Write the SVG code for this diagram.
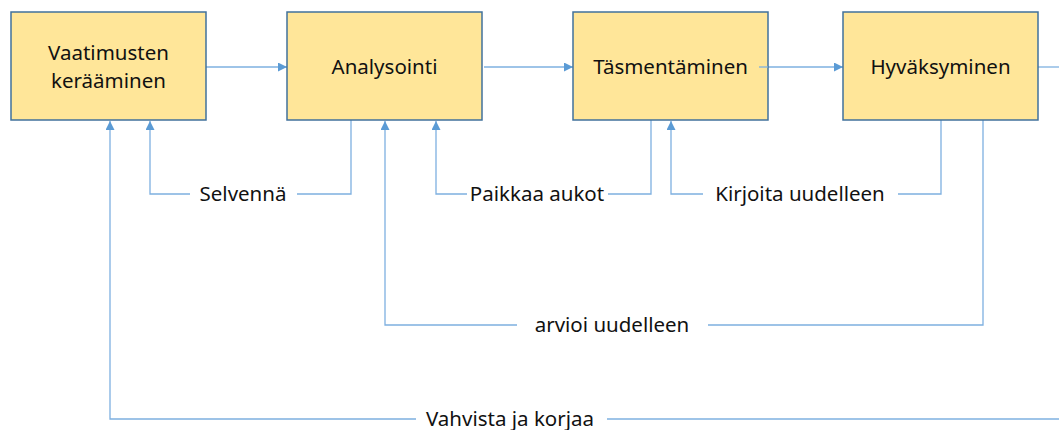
<svg xmlns="http://www.w3.org/2000/svg" width="1059" height="430" viewBox="0 0 1059 430">
  <style>
    .box { fill: #FFE699; stroke: #41719C; stroke-width: 1.5; }
    .lbl { font-family: "Noto Sans", "Open Sans", sans-serif; font-size: 20.5px; fill: #111111; text-anchor: middle; }
    .con { fill: none; stroke: #7EB0E0; stroke-width: 1.3; }
    .arr { fill: none; stroke: #7EB0E0; stroke-width: 1.3; marker-end: url(#head); }
  </style>
  <defs>
    <marker id="head" viewBox="0 0 10 10" refX="10" refY="5" markerUnits="userSpaceOnUse" markerWidth="9" markerHeight="9" orient="auto">
      <path d="M0,0 L10,5 L0,10 z" fill="#5B9BD5"/>
    </marker>
  </defs>
  <rect width="1059" height="430" fill="#FFFFFF"/>

  <g id="connectors">
    <!-- main flow -->
    <path class="arr" d="M206,67 H287"/>
    <path class="arr" d="M484,67 H573"/>
    <path class="arr" d="M759,67 H843"/>
    <path class="con" d="M1038,67 H1059"/>

    <!-- Selvennä -->
    <path class="con" d="M351,120 V194 H297"/>
    <path class="arr" d="M190,194 H150 V121"/>
    <text class="lbl" x="243" y="201">Selvennä</text>

    <!-- Paikkaa aukot -->
    <path class="con" d="M651,120 V194 H608"/>
    <path class="arr" d="M467,194 H436 V121"/>
    <text class="lbl" x="537" y="201">Paikkaa aukot</text>

    <!-- Kirjoita uudelleen -->
    <path class="con" d="M941,120 V194 H898"/>
    <path class="arr" d="M703,194 H671 V121"/>
    <text class="lbl" x="800" y="201">Kirjoita uudelleen</text>

    <!-- arvioi uudelleen -->
    <path class="con" d="M983,120 V325 H708"/>
    <path class="arr" d="M517,325 H385 V121"/>
    <text class="lbl" x="612" y="332">arvioi uudelleen</text>

    <!-- Vahvista ja korjaa -->
    <path class="con" d="M1059,419 H607"/>
    <path class="arr" d="M416,419 H110 V121"/>
    <text class="lbl" x="510" y="426">Vahvista ja korjaa</text>
  </g>

  <g id="node-keraaminen">
    <rect class="box" x="11" y="12" width="195" height="108"/>
    <text class="lbl" x="108.5" y="60">Vaatimusten</text>
    <text class="lbl" x="108.5" y="88">kerääminen</text>
  </g>
  <g id="node-analysointi">
    <rect class="box" x="287" y="12" width="195" height="108"/>
    <text class="lbl" x="384.5" y="74">Analysointi</text>
  </g>
  <g id="node-tasmentaminen">
    <rect class="box" x="573" y="12" width="195" height="108"/>
    <text class="lbl" x="670.5" y="74">Täsmentäminen</text>
  </g>
  <g id="node-hyvaksyminen">
    <rect class="box" x="843" y="12" width="195" height="108"/>
    <text class="lbl" x="940.5" y="74">Hyväksyminen</text>
  </g>

  <!-- line that runs across the edge of the third box -->
  <path class="con" d="M759,67 H768"/>
</svg>
